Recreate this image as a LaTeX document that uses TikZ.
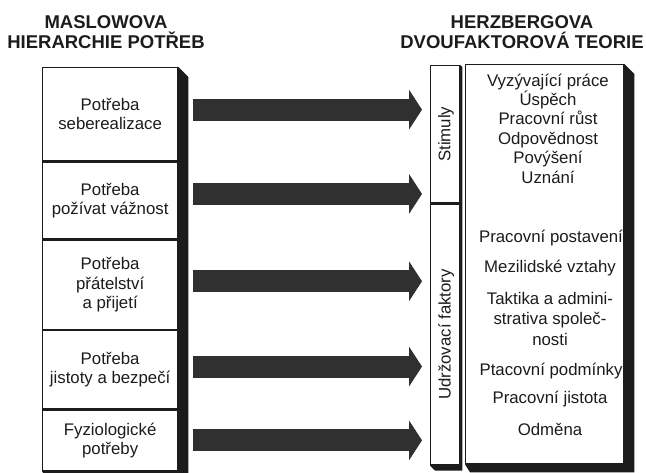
\documentclass[tikz,border=0pt]{standalone}
\usepackage{fontspec}
\setmainfont{Liberation Sans}
\usetikzlibrary{arrows.meta,backgrounds}
\definecolor{ink}{HTML}{1C1C1C}
\definecolor{arrowgray}{HTML}{303030}
\begin{document}
\begin{tikzpicture}[x=1pt,y=-1pt,
  every node/.style={text=ink, font=\fontsize{16.8}{19.4}\selectfont, inner sep=0pt},
  title/.style={font=\fontsize{18.5}{20.5}\selectfont\bfseries, align=center},
  sect/.style={draw=ink, line width=1.3pt, fill=white, anchor=north west, align=center},
  item/.style={align=center},
  shadowc/.style={fill=ink},
  bigarrow/.style={draw=arrowgray, line width=22pt,
    -{Triangle[length=13pt,width=40pt,line width=0pt]},
    shorten <=0pt, shorten >=8pt}
]
\useasboundingbox (0,0) rectangle (646,472);

% titles
\node[title] (tl) at (106,32) {MASLOWOVA\\HIERARCHIE POTŘEB};
\node[title] (tr) at (522,32) {HERZBERGOVA\\DVOUFAKTOROVÁ TEORIE};

% Maslow stack
\node[sect, minimum width=135pt, minimum height=93pt] (m1) at (42,67) {Potřeba\\seberealizace};
\node[sect, minimum width=135pt, minimum height=77pt] (m2) at (m1.south west) {Potřeba\\požívat váž\-nost};
\node[sect, minimum width=135pt, minimum height=89pt] (m3) at (m2.south west) {Potřeba\\přátelství\\a přijetí};
\node[sect, minimum width=135pt, minimum height=78pt] (m4) at (m3.south west) {Potřeba\\jistoty a bezpečí};
\node[sect, minimum width=135pt, minimum height=61pt] (m5) at (m4.south west) {Fyziologické\\potřeby};

% Herzberg boxes
\node[sect, minimum width=29pt, minimum height=137pt] (nbs) at (430,65) {};
\node[sect, minimum width=29pt, minimum height=261pt] (nbh) at (nbs.south west) {};
\node[rotate=90] (stim) at ([xshift=1pt]nbs.center) {Stimuly};
\node[rotate=90] (udr) at ([xshift=1pt]nbh.center) {Udržovací faktory};
\node[sect, minimum width=158pt, minimum height=399pt] (hb) at (465,64) {};

% texts in Herzberg box
\node[item] (s1) at (548,128.5) {Vyzývající práce\\Úspěch\\Pracovní růst\\Odpovědnost\\Povýšení\\Uznání};
\node[item] (h1) at (551,238) {Pracovní postavení};
\node[item] (h2) at (550,268) {Mezilidské vztahy};
\node[item, font=\fontsize{16.8}{20.5}\selectfont] (h3) at (550,318.5) {Taktika a admini-\\strativa společ-\\nosti};
\node[item] (h4) at (551,371) {Ptacovní podmínky};
\node[item] (h5) at (550,399) {Pracovní jistota};
\node[item] (h6) at (550,429) {Odměna};

% shadows
\begin{scope}[on background layer]
\fill[shadowc] (m1.north east) -- ++(10,10) -- ([shift={(10,5)}]m5.south east)
  -- ([shift={(5,5)}]m5.south west) -- (m5.south west) -- cycle;
\fill[shadowc] (nbs.north east) -- ++(2,2) -- ([shift={(2,5)}]nbh.south east)
  -- ([shift={(5,5)}]nbh.south west) -- (nbh.south west) -- cycle;
\fill[shadowc] (hb.north east) -- ++(10,10) -- ([shift={(10,8)}]hb.south east)
  -- ([shift={(5,8)}]hb.south west) -- (hb.south west) -- cycle;
\end{scope}

% arrows
\draw[bigarrow] ([xshift=15pt,yshift=4.5pt]m1.east) -- ([yshift=4.5pt]m1.east -| nbs.west);
\draw[bigarrow] ([xshift=15pt,yshift=6.5pt]m2.east) -- ([yshift=6.5pt]m2.east -| nbs.west);
\draw[bigarrow] ([xshift=15pt,yshift=3.5pt]m3.east) -- ([yshift=3.5pt]m3.east -| nbh.west);
\draw[bigarrow] ([xshift=15pt,yshift=3pt]m4.east) -- ([yshift=3pt]m4.east -| nbh.west);
\draw[bigarrow] ([xshift=15pt]m5.east) -- (m5.east -| nbh.west);
\end{tikzpicture}
\end{document}
